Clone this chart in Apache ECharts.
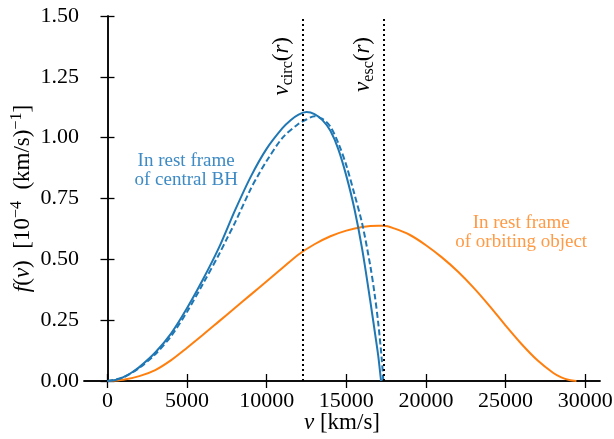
<!DOCTYPE html>
<html>
<head>
<meta charset="utf-8">
<script src="https://cdn.jsdelivr.net/npm/echarts@6/dist/echarts.min.js"></script>
<style>
    html, body {margin: 0; padding: 0; background: #fff;}
    #chart {width: 614px; height: 439px;}
</style>
</head>
<body>
<div id="chart"></div>
<script>
// values: v in km/s, f in 1e-4 (km/s)^-1
var vBH = [0, 500, 1000, 1500, 2000, 3000, 4000, 5000, 6000, 7000, 8000, 9000, 10000, 11000, 11500, 12000, 12500,
    13000, 13500, 14000, 14500, 15000, 15500, 16000, 16500, 16870, 17000, 17180];
var fBH = [0, 0.004, 0.016, 0.034, 0.057, 0.117, 0.196, 0.300, 0.418, 0.548, 0.700, 0.840, 0.955, 1.040, 1.072, 1.095, 1.105,
    1.097, 1.072, 1.028, 0.952, 0.843, 0.710, 0.540, 0.330, 0.165, 0.105, 0];

var vBHDash = [0, 1000, 2000, 3000, 4000, 5000, 6000, 7000, 7500, 8000, 9000, 9500, 10000, 11000, 12000, 12500, 13000,
    13500, 14000, 14500, 15000, 15500, 16000, 16500, 16770, 17000, 17230, 17320];
var fBHDash = [0, 0.015, 0.054, 0.110, 0.185, 0.285, 0.400, 0.520, 0.585, 0.650, 0.790, 0.850, 0.905, 1.000, 1.057, 1.075, 1.088,
    1.077, 1.045, 0.977, 0.886, 0.770, 0.645, 0.475, 0.360, 0.240, 0.086, 0];

var vObj = [0, 1000, 2000, 3000, 4000, 5000, 6000, 7000, 8000, 9000, 10000, 11000, 12000, 13000, 14000, 15000, 16000,
    17000, 17350, 18000, 19000, 20000, 21000, 22000, 23000, 24000, 25000, 26000, 27000, 28000, 28500, 29000, 29450];
var fObj = [0, 0.005, 0.020, 0.045, 0.086, 0.137, 0.190, 0.245, 0.300, 0.355, 0.410, 0.465, 0.520, 0.562, 0.595, 0.618, 0.633,
    0.638, 0.638, 0.627, 0.600, 0.558, 0.508, 0.450, 0.383, 0.308, 0.228, 0.152, 0.085, 0.033, 0.015, 0.004, 0];

var vCirc = 12270;
var vEsc = 17350;
var xTicks = [0, 5000, 10000, 15000, 20000, 25000, 30000];

var FONT = '"Liberation Serif", "Times New Roman", serif';
var BLUE = '#1f77b4';
var ORANGE = '#ff7f0e';

function pairs(xs, ys) {
    var out = [];
    for (var i = 0; i < xs.length; i++) {
        out.push([xs[i], ys[i]]);
    }
    return out;
}

// rich styles for italic symbols, sub- and superscripts
var mathRich = {
    i: {fontFamily: FONT, fontStyle: 'italic', fontSize: 23, color: '#000', lineHeight: 28},
    sub: {fontFamily: FONT, fontSize: 16, color: '#000', verticalAlign: 'bottom', lineHeight: 16},
    sup: {fontFamily: FONT, fontSize: 16, color: '#000', verticalAlign: 'top', lineHeight: 16}
};

var tickStyle = {show: true, inside: true, length: 7, lineStyle: {color: '#000', width: 1.3}};
var lineAxis = {show: true, lineStyle: {color: '#000', width: 1.5}};

var chart = echarts.init(document.getElementById('chart'), null, {renderer: 'canvas'});

var option = {
    animation: false,
    backgroundColor: '#fff',
    textStyle: {fontFamily: FONT},
    // v6 would otherwise shrink the grid to keep the names inside
    grid: {left: 84, right: 14, top: 16, bottom: 58, containLabel: false, outerBoundsMode: 'none'},
    xAxis: [
        {
            type: 'value',
            min: -1475,
            max: 30930,
            name: '{i|v} [km/s]',
            nameLocation: 'middle',
            nameGap: 28,
            nameMoveOverlap: false,
            nameTextStyle: {fontFamily: FONT, fontSize: 23, color: '#000', lineHeight: 28, rich: mathRich},
            axisLine: lineAxis,
            axisTick: {show: true, inside: true, length: 7, lineStyle: {color: '#000', width: 1.3}, customValues: xTicks},
            axisLabel: {
                customValues: xTicks, margin: 9, fontFamily: FONT, fontSize: 22, color: '#000',
                formatter: function (val) {
                    return String(val);
                }
            },
            splitLine: {show: false}
        },
        {
            type: 'value',
            position: 'top',
            min: -1475,
            max: 30930,
            axisLine: lineAxis,
            axisTick: {show: true, inside: true, length: 7, lineStyle: {color: '#000', width: 1.3}, customValues: xTicks},
            axisLabel: {show: false},
            splitLine: {show: false}
        }
    ],
    yAxis: [
        {
            type: 'value',
            min: 0,
            max: 1.5,
            interval: 0.25,
            name: '{i|f}({i|v})  [10{sup|\u22124}  (km/s){sup|\u22121}]',
            nameLocation: 'middle',
            nameRotate: 90,
            nameGap: 47,
            nameMoveOverlap: false,
            nameTextStyle: {fontFamily: FONT, fontSize: 23, color: '#000', lineHeight: 28, rich: mathRich},
            axisLine: lineAxis,
            axisTick: tickStyle,
            axisLabel: {
                margin: 5, fontFamily: FONT, fontSize: 22, color: '#000',
                formatter: function (val) {
                    return val.toFixed(2);
                }
            },
            splitLine: {show: false}
        },
        {
            type: 'value',
            position: 'right',
            min: 0,
            max: 1.5,
            interval: 0.25,
            axisLine: lineAxis,
            axisTick: tickStyle,
            axisLabel: {show: false},
            splitLine: {show: false}
        }
    ],
    series: [
        {
            name: 'BH frame',
            type: 'line',
            data: pairs(vBH, fBH),
            showSymbol: false,
            smooth: 0.3,
            lineStyle: {color: BLUE, width: 2},
            z: 3,
            markLine: {
                silent: true,
                symbol: ['none', 'none'],
                lineStyle: {color: '#000', type: [2, 3], width: 2},
                label: {
                    position: 'insideEndTop',
                    distance: [21, 7],
                    fontFamily: FONT,
                    fontSize: 23,
                    color: '#000',
                    rich: mathRich
                },
                data: [
                    {xAxis: vCirc, label: {formatter: '{i|v}{sub|circ}({i|r})'}},
                    {xAxis: vEsc, label: {formatter: '{i|v}{sub|esc}({i|r})'}}
                ]
            },
            markPoint: {
                silent: true,
                symbolSize: 0,
                label: {
                    show: true,
                    position: 'inside',
                    fontFamily: FONT,
                    fontSize: 19,
                    lineHeight: 19,
                    align: 'center',
                    color: '#3d8ac4'
                },
                data: [{coord: [4940, 0.863], value: 'In rest frame\nof central BH'}]
            }
        },
        {
            name: 'BH frame dashed',
            type: 'line',
            data: pairs(vBHDash, fBHDash),
            showSymbol: false,
            smooth: 0.3,
            lineStyle: {color: BLUE, width: 2, type: [6, 3]},
            z: 3
        },
        {
            name: 'object frame',
            type: 'line',
            data: pairs(vObj, fObj),
            showSymbol: false,
            smooth: 0.3,
            lineStyle: {color: ORANGE, width: 2},
            z: 2,
            markPoint: {
                silent: true,
                symbolSize: 0,
                label: {
                    show: true,
                    position: 'inside',
                    fontFamily: FONT,
                    fontSize: 19,
                    lineHeight: 19,
                    align: 'center',
                    color: '#ff9a45'
                },
                data: [{coord: [25980, 0.61], value: 'In rest frame\nof orbiting object'}]
            }
        }
    ]
};

chart.setOption(option);
</script>
</body>
</html>
